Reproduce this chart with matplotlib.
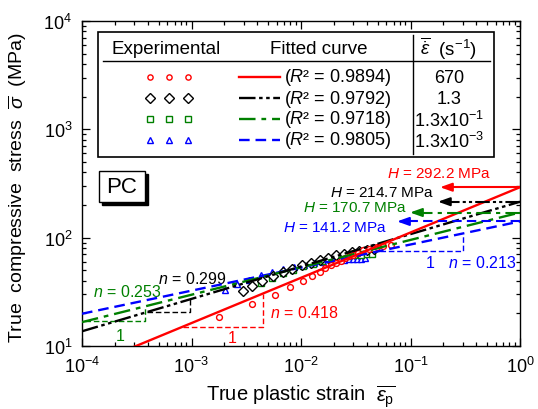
import matplotlib as mpl

mpl.use("Agg")
import matplotlib.pyplot as plt
from matplotlib.patches import Rectangle
from matplotlib.ticker import LogLocator, NullFormatter

plt.rcParams.update(
    {
        "font.family": ["Liberation Sans", "DejaVu Sans"],
        "mathtext.fontset": "custom",
        "mathtext.rm": "Liberation Sans",
        "mathtext.it": "Liberation Sans:italic",
        "mathtext.bf": "Liberation Sans:bold",
    }
)

# ---- data ----
# experimental points: strain, stress (MPa)
red_strain = [0.0018, 0.00359, 0.0058, 0.00798, 0.0104, 0.0127, 0.0149, 0.0167, 0.0187,
              0.0209, 0.0231, 0.0252, 0.0276, 0.030, 0.0334, 0.0368, 0.0418, 0.0491,
              0.0565, 0.0664]
red_stress = [18.6, 24.2, 29.5, 35.0, 40.0, 43.9, 48.4, 52.4, 55.8,
              58.6, 61.1, 64.3, 67.1, 69.4, 72.4, 76.7, 78.3, 81.3,
              84.0, 86.1]

black_strain = [0.00295, 0.00357, 0.00441, 0.00555, 0.00685, 0.00828, 0.0102, 0.0123,
                0.0149, 0.0177, 0.0209, 0.0247, 0.0292, 0.0339, 0.0401, 0.0464]
black_stress = [32.1, 35.7, 39.7, 44.2, 48.1, 51.3, 55.8, 58.2,
                62.1, 65.5, 69.1, 70.5, 73.1, 75.5, 77.5, 78.3]

green_strain = [0.00431, 0.00543, 0.00685, 0.00845, 0.0104, 0.0129, 0.0156, 0.0188,
                0.0222, 0.0263, 0.0305, 0.0353, 0.0401, 0.0445]
green_stress = [38.1, 42.4, 47.1, 50.7, 54.6, 57.5, 60.7, 63.4,
                65.5, 67.5, 69.0, 69.7, 70.5, 71.3]

blue_strain = [0.00202, 0.00261, 0.00335, 0.00431, 0.00543, 0.00685, 0.00863, 0.01064,
               0.01314, 0.0159, 0.0188, 0.0218, 0.0247, 0.0274, 0.0299, 0.0325, 0.0353,
               0.0384]
blue_stress = [32.8, 37.2, 40.8, 45.1, 48.1, 51.3, 54.1, 56.4,
               58.2, 60.1, 61.4, 62.1, 62.7, 63.4, 63.4, 64.0, 64.0,
               64.7]

# fitted power law sigma = H * eps^n
H_vals = [292.2, 214.7, 170.7, 141.2]
n_vals = [0.418, 0.299, 0.253, 0.213]
r2_vals = ["0.9894", "0.9792", "0.9718", "0.9805"]
rate_labels = ["670", "1.3", "1.3x10$^{-1}$", "1.3x10$^{-3}$"]

colors = ["#ff0000", "#000000", "#008000", "#0000ff"]
dashes = [(None, None), (7, 1.5, 1.5, 1.5, 1.5, 1.5), (7, 2.5, 2, 2.5), (4.5, 2.5)]
markers = ["o", "D", "s", "^"]
msizes = [4.2, 5.2, 4.2, 4.6]

W, Hpx = 538, 410
fig = plt.figure(figsize=(W / 100, Hpx / 100), dpi=100)
ax = fig.add_axes([82 / W, 1 - 347 / Hpx, (520 - 82) / W, (347 - 22) / Hpx])


def fp(x, y):
    # figure pixel (from top-left) -> figure fraction
    return x / W, 1 - y / Hpx


def fit(i, e):
    return H_vals[i] * e ** n_vals[i]


# ---- experimental points ----
series = [(red_strain, red_stress), (black_strain, black_stress),
          (green_strain, green_stress), (blue_strain, blue_stress)]
order = [3, 2, 1, 0]
for i in order:
    xs, ys = series[i]
    ax.plot(xs, ys, linestyle="none", marker=markers[i], ms=msizes[i], mfc="white",
            mec=colors[i], mew=1.0, zorder=3 + (3 - i) * 0.1)

# ---- fitted lines ----
e_grid = [1e-4, 1.0]
for i in order:
    ln, = ax.plot(e_grid, [fit(i, e) for e in e_grid], color=colors[i], lw=1.7, zorder=4)
    if dashes[i][0] is not None:
        ln.set_dashes(dashes[i])

# ---- slope triangles ----
tri = [(8.36e-4, 4.47e-3), (3.9e-4, 9.7e-4), (1.06e-4, 3.76e-4), (0.0526, 0.30)]
for i, (e1, e2) in enumerate(tri):
    y1, y2 = fit(i, e1), fit(i, e2)
    ax.plot([e1, e2, e2], [y1, y1, y2], color=colors[i], lw=1.0, ls=(0, (4, 2)), zorder=2)

fs_ann = 11.5
ax.text(0.00521, 20.6, "$n$ = 0.418", color=colors[0], fontsize=fs_ann, va="center")
ax.text(4.94e-4, 42.4, "$n$ = 0.299", color=colors[1], fontsize=fs_ann, va="center")
ax.text(1.26e-4, 32.1, "$n$ = 0.253", color=colors[2], fontsize=fs_ann, va="center")
ax.text(0.22, 59.4, "$n$ = 0.213", color=colors[3], fontsize=fs_ann, va="center")
ax.text(0.00233, 12.1, "1", color=colors[0], fontsize=fs_ann, ha="center", va="center")
ax.text(2.22e-4, 12.4, "1", color=colors[2], fontsize=fs_ann, ha="center", va="center")
ax.text(0.151, 59.4, "1", color=colors[3], fontsize=fs_ann, ha="center", va="center")

# ---- H arrows and labels ----
arrow_tip = [0.186, 0.178, 0.099, 0.0753]
h_text_pos = [(0.061, 393), (0.0184, 262), (0.0104, 191), (0.0068, 125)]
for i in range(4):
    h = H_vals[i]
    tip = arrow_tip[i]
    ln, = ax.plot([1.0, tip * 1.2], [h, h], color=colors[i], lw=1.5, zorder=4)
    if dashes[i][0] is not None:
        ln.set_dashes(dashes[i])
    ax.annotate("", xy=(tip, h), xytext=(tip * 1.25, h),
                arrowprops=dict(arrowstyle="-|>,head_length=0.7,head_width=0.25",
                                color=colors[i], lw=1.5, shrinkA=0, shrinkB=0), zorder=4)
    tx, ty = h_text_pos[i]
    ax.text(tx, ty, f"$H$ = {h} MPa", color=colors[i], fontsize=11, va="center")

# ---- axes ----
ax.set_xscale("log")
ax.set_yscale("log")
ax.set_xlim(1e-4, 1)
ax.set_ylim(10, 1e4)
ax.xaxis.set_major_locator(LogLocator(base=10, numticks=10))
ax.yaxis.set_major_locator(LogLocator(base=10, numticks=10))
ax.xaxis.set_minor_locator(LogLocator(base=10, subs=range(2, 10), numticks=20))
ax.yaxis.set_minor_locator(LogLocator(base=10, subs=range(2, 10), numticks=20))
ax.xaxis.set_minor_formatter(NullFormatter())
ax.yaxis.set_minor_formatter(NullFormatter())
ax.tick_params(which="both", direction="in", top=True, right=True, width=0.9,
               labelsize=13)
ax.tick_params(which="major", length=6, pad=7)
ax.tick_params(which="minor", length=3)
for s in ax.spines.values():
    s.set_linewidth(1.0)

ax.set_xlabel(r"True plastic strain  $\overline{\varepsilon_{\rm p}}$", fontsize=14.5, labelpad=5)
ax.set_ylabel(r"True  compressive  stress  $\overline{\sigma}$  (MPa)", fontsize=14)
ax.yaxis.set_label_coords(-0.122, 0.49)

# ---- PC box with shadow ----
x0, y0 = fp(99, 203)
bw, bh = 46 / W, 31 / Hpx
fig.patches.append(Rectangle((x0 + 3 / W, y0 - 3 / Hpx), bw, bh, transform=fig.transFigure,
                             facecolor="black", edgecolor="black", zorder=5))
fig.patches.append(Rectangle((x0, y0), bw, bh, transform=fig.transFigure,
                             facecolor="white", edgecolor="black", lw=1.0, zorder=6))
fig.text(*fp(122, 188), "PC", fontsize=16, ha="center", va="center", zorder=7)

# ---- legend table ----
lx0, ly0 = fp(98, 158)
fig.patches.append(Rectangle((lx0, ly0), (494 - 98) / W, (158 - 33) / Hpx,
                             transform=fig.transFigure, facecolor="white",
                             edgecolor="black", lw=1.2, zorder=5))
fig.lines.append(plt.Line2D([103 / W, 490 / W], [1 - 62 / Hpx] * 2, color="black",
                            lw=1.0, transform=fig.transFigure, zorder=6))
fig.lines.append(plt.Line2D([413 / W] * 2, [1 - 36 / Hpx, 1 - 155 / Hpx], color="black",
                            lw=1.0, transform=fig.transFigure, zorder=6))
fs_leg = 13
fig.text(*fp(166, 50), "Experimental", fontsize=13.5, ha="center", va="center", zorder=7)
fig.text(*fp(319, 50), "Fitted curve", fontsize=13.5, ha="center", va="center", zorder=7)
fig.text(*fp(449, 49), r"$\overline{\dot{\varepsilon}}$  (s$^{-1}$)", fontsize=13.5,
         ha="center", va="center", zorder=7)
row_y = [78, 99, 120, 141]
for i in range(4):
    yy = row_y[i]
    for mx in (150, 169, 188):
        fig.lines.append(plt.Line2D([mx / W], [1 - yy / Hpx], marker=markers[i],
                                    ms=msizes[i] * 0.9, mfc="white", mec=colors[i], mew=1.0,
                                    ls="none", transform=fig.transFigure, zorder=7))
    ln = plt.Line2D([239 / W, 280 / W], [1 - yy / Hpx] * 2, color=colors[i], lw=1.7,
                    transform=fig.transFigure, zorder=7)
    if dashes[i][0] is not None:
        ln.set_dashes(dashes[i])
    fig.lines.append(ln)
    fig.text(*fp(284, yy), f"($R$\u00b2 = {r2_vals[i]})", fontsize=fs_leg, ha="left",
             va="center", zorder=7)
    fig.text(*fp(449, yy + 1), rate_labels[i], fontsize=fs_leg, ha="center", va="center",
             zorder=7)

fig.savefig("out.png", dpi=100)
